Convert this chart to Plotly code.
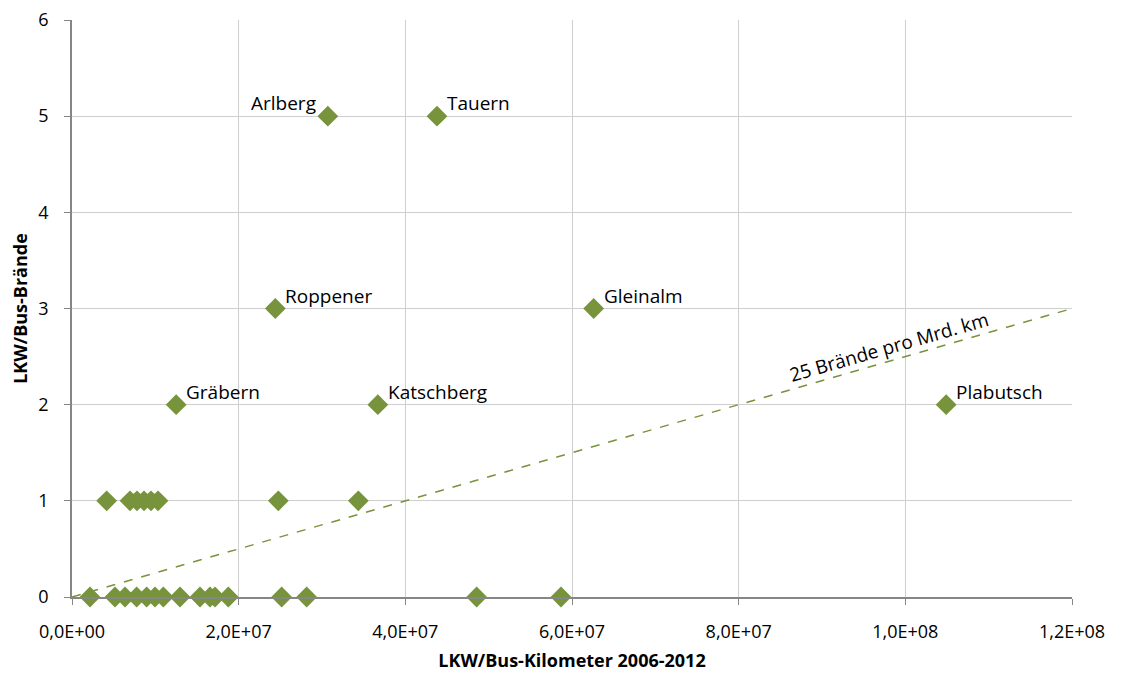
import plotly.graph_objects as go

# Unlabeled tunnels
km_zero = [2.16e6, 5.16e6, 6.36e6, 7.76e6, 8.96e6, 9.96e6, 1.096e7, 1.296e7, 1.536e7,
           1.656e7, 1.716e7, 1.876e7, 2.516e7, 2.816e7, 4.856e7, 5.868e7]
fires_zero = [0] * len(km_zero)
km_one = [4.16e6, 6.96e6, 7.8e6, 8.64e6, 9.48e6, 1.032e7, 2.476e7, 3.436e7]
fires_one = [1] * len(km_one)

# Labeled tunnels
names = ["Arlberg", "Tauern", "Roppener", "Gleinalm", "Gräbern", "Katschberg", "Plabutsch"]
km_named = [3.07e7, 4.38e7, 2.44e7, 6.26e7, 1.25e7, 3.67e7, 1.049e8]
fires_named = [5, 5, 3, 3, 2, 2, 2]

# Reference line: 25 fires per billion km
line_x = [0, 1.2e8]
line_y = [0, 3]

x_ticks = [0, 2e7, 4e7, 6e7, 8e7, 1e8, 1.2e8]
x_tick_text = ["0,0E+00", "2,0E+07", "4,0E+07", "6,0E+07", "8,0E+07", "1,0E+08", "1,2E+08"]
y_ticks = [0, 1, 2, 3, 4, 5, 6]

green = "#77933C"
font = "'Open Sans', sans-serif"

fig = go.Figure()
fig.add_trace(go.Scatter(x=line_x, y=line_y, mode="lines",
                         line=dict(color=green, width=1.5, dash="dash"),
                         hoverinfo="skip", showlegend=False))
all_x = km_zero + km_one + km_named
all_y = fires_zero + fires_one + fires_named
fig.add_trace(go.Scatter(x=all_x, y=all_y, mode="markers",
                         marker=dict(symbol="diamond", size=16, color=green),
                         showlegend=False, cliponaxis=False))

for n, xv, yv in zip(names, km_named, fires_named):
    if n == "Arlberg":
        fig.add_annotation(x=xv, y=yv, text=n, showarrow=False, xanchor="right",
                           xshift=-10, yshift=13, font=dict(size=19, color="#000", family=font))
    else:
        fig.add_annotation(x=xv, y=yv, text=n, showarrow=False, xanchor="left",
                           xshift=8, yshift=13, font=dict(size=19, color="#000", family=font))

fig.add_annotation(x=9.8e7, y=2.6, text="25 Brände pro Mrd. km", showarrow=False,
                   textangle=-16, font=dict(size=19, color="#000", family=font))

fig.update_xaxes(range=[0, 1.2e8], tickvals=x_ticks, ticktext=x_tick_text,
                 showgrid=True, gridcolor="#cfcfcf", gridwidth=1.3,
                 showline=True, linecolor="#868686", linewidth=1.5,
                 ticks="outside", ticklen=6, tickcolor="#868686",
                 ticklabelstandoff=12, ticklabeloverflow="allow",
                 tickfont=dict(size=18, color="#000", family=font),
                 title=dict(text="<b>LKW/Bus-Kilometer 2006-2012</b>",
                            font=dict(size=18, color="#000", family=font), standoff=12),
                 zeroline=False, automargin=False)
fig.update_yaxes(range=[0, 6], tickvals=y_ticks,
                 showgrid=True, gridcolor="#cfcfcf", gridwidth=1.3,
                 showline=True, linecolor="#868686", linewidth=1.5,
                 ticks="outside", ticklen=6, tickcolor="#868686",
                 ticklabelstandoff=12, ticklabeloverflow="allow",
                 tickfont=dict(size=18, color="#000", family=font),
                 title=dict(text="<b>LKW/Bus-Brände</b>",
                            font=dict(size=18, color="#000", family=font), standoff=14),
                 zeroline=False, automargin=False)

fig.update_layout(width=1127, height=679, plot_bgcolor="white", paper_bgcolor="white",
                  margin=dict(l=64, r=63, t=12, b=90), showlegend=False)

fig.write_html("out.html")
